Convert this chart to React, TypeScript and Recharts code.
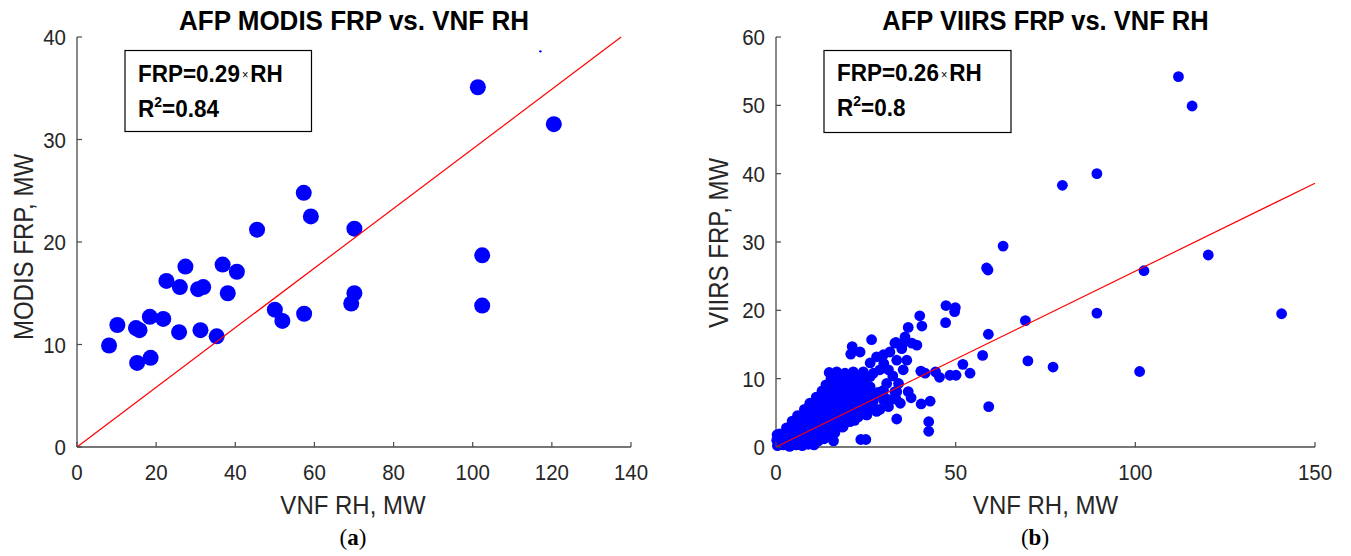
import React from 'react';
import { ScatterChart, Scatter, XAxis, YAxis } from 'recharts';

// ---------- Panel (a): AFP MODIS FRP vs. VNF RH ----------
const modisRH = [8.1, 10.2, 14.9, 15.8, 15.2, 18.6, 18.4, 21.8, 22.6, 26.0, 25.8, 27.4, 30.6, 31.9, 31.2, 35.3, 36.8, 38.1, 40.4, 45.5, 50.0, 51.9, 57.3, 59.1, 57.4, 69.3, 70.1, 70.1, 101.3, 102.4, 102.4, 120.5];
const modisFRP = [9.9, 11.9, 11.6, 11.4, 8.2, 8.7, 12.7, 12.5, 16.2, 15.6, 11.2, 17.6, 15.4, 15.6, 11.4, 10.8, 17.8, 15.0, 17.1, 21.2, 13.4, 12.3, 24.8, 22.5, 13.0, 14.0, 15.0, 21.3, 35.1, 18.7, 13.8, 31.5];
const modisSpeck: [number, number][] = [[117.1, 38.6]];
const modisFit: [number, number][] = [[0, 0], [137.5, 40]];
const modisXTicks = [0, 20, 40, 60, 80, 100, 120, 140];
const modisYTicks = [0, 10, 20, 30, 40];

// ---------- Panel (b): AFP VIIRS FRP vs. VNF RH ----------
const viirsOutliers: [number, number][] = [
  [112.0, 54.2], [115.8, 49.9], [89.3, 40.0], [79.7, 38.3], [63.2, 29.4], [58.6, 26.2], [59.0, 25.9],
  [102.4, 25.8], [120.3, 28.1], [140.7, 19.5], [89.3, 19.6], [69.4, 18.5], [59.1, 16.5],
  [47.3, 20.7], [49.9, 20.4], [49.7, 19.8], [47.2, 18.2], [40.0, 19.2], [40.6, 17.7], [36.8, 17.5],
  [57.5, 13.4], [70.1, 12.6], [77.1, 11.7], [101.2, 11.05], [52.0, 12.1], [54.0, 10.8],
  [44.4, 11.0], [45.5, 10.2], [48.4, 10.5], [50.1, 10.5], [59.2, 5.9], [40.3, 11.1], [40.4, 6.3],
  [42.9, 6.7], [42.5, 3.7], [42.5, 2.3], [33.6, 4.1], [34.6, 6.4], [36.8, 8.1], [37.6, 7.2],
  [23.6, 1.1], [25.0, 1.1], [16.0, 0.9], [41.5, 10.8]
];
const viirsMid: [number, number][] = [
  [24.3, 11.0], [26.2, 12.3], [27.1, 10.8], [28.0, 13.2], [28.9, 11.3], [29.9, 13.5], [31.7, 13.9],
  [33.1, 15.2], [35.9, 16.1], [37.8, 15.2], [39.2, 14.9], [35.0, 14.4], [33.6, 12.7], [36.4, 12.7],
  [35.4, 11.3], [30.8, 9.3], [34.1, 9.3], [29.9, 8.3], [33.1, 8.1], [31.7, 6.9], [29.9, 6.9],
  [27.1, 7.4], [28.0, 5.4], [25.2, 4.7], [22.9, 4.4], [20.6, 3.7], [18.7, 3.0], [21.2, 14.7],
  [23.4, 13.9], [20.8, 13.6], [26.6, 15.7], [26.2, 8.8], [26.2, 10.3], [31.3, 11.3], [33.4, 15.3],
  [35.4, 15.2], [30.3, 7.2], [31.3, 5.9], [28.0, 5.2], [33.6, 8.1], [33.4, 7.0], [28.4, 8.0],
  [32.5, 10.4], [30.0, 12.2]
];
const viirsCore: [number, number][] = [
  [0.4, 0.2], [2.1, 0.3], [3.8, 0.1], [5.6, 0.3], [7.3, 0.2], [9.0, 0.4], [10.6, 0.3],
  [0.2, 1.0], [1.5, 1.2], [3.2, 1.1], [4.9, 0.9], [6.6, 1.2], [8.2, 1.0], [10.0, 1.3], [11.8, 0.9], [13.4, 1.2],
  [0.3, 1.8], [1.0, 1.9], [2.6, 2.1], [4.3, 2.0], [6.0, 1.8], [7.7, 2.2], [9.4, 1.9], [11.1, 2.1], [12.9, 2.0], [14.6, 1.8], [16.4, 2.1],
  [2.9, 2.8], [4.6, 3.0], [6.3, 2.9], [8.0, 2.7], [9.8, 3.0], [11.5, 2.9], [13.3, 3.1], [15.0, 2.8], [16.8, 3.0], [18.5, 2.9],
  [4.5, 3.8], [6.2, 3.7], [7.9, 3.9], [9.6, 3.8], [11.4, 3.6], [13.1, 3.9], [14.9, 3.8], [16.7, 3.7], [18.4, 4.0], [20.2, 3.8], [21.9, 3.9],
  [6.0, 4.6], [7.7, 4.8], [9.5, 4.7], [11.2, 4.5], [12.9, 4.8], [14.7, 4.7], [16.4, 4.6], [18.2, 4.9], [20.0, 4.7], [21.8, 4.5], [23.5, 4.8], [25.3, 4.7],
  [7.9, 5.5], [9.6, 5.7], [11.4, 5.6], [13.1, 5.4], [14.9, 5.7], [16.6, 5.6], [18.3, 5.5], [20.1, 5.8], [21.9, 5.6], [23.6, 5.4], [25.4, 5.7], [27.2, 5.6], [28.9, 5.5],
  [9.4, 6.4], [11.1, 6.6], [12.9, 6.5], [14.6, 6.3], [16.4, 6.6], [18.1, 6.5], [19.9, 6.4], [21.6, 6.7], [23.4, 6.5], [25.1, 6.3], [27.0, 6.6],
  [11.2, 7.3], [13.0, 7.5], [14.7, 7.4], [16.5, 7.2], [18.2, 7.5], [20.0, 7.4], [21.7, 7.3], [23.5, 7.6], [25.2, 7.4], [27.1, 7.3],
  [12.8, 8.2], [14.5, 8.4], [16.3, 8.3], [18.0, 8.1], [19.8, 8.4], [21.5, 8.3], [23.3, 8.2], [25.0, 8.5],
  [13.9, 9.1], [15.7, 9.3], [17.4, 9.2], [19.2, 9.0], [20.9, 9.3], [22.7, 9.2], [24.4, 9.4],
  [15.3, 10.0], [17.1, 10.2], [18.8, 10.1], [20.6, 9.9], [22.3, 10.2], [24.0, 10.1],
  [14.8, 10.9], [16.9, 11.0], [19.2, 10.8], [21.5, 11.0]
];
const viirsFit: [number, number][] = [[0, 0], [150, 38.6]];
const viirsXTicks = [0, 50, 100, 150];
const viirsYTicks = [0, 10, 20, 30, 40, 50, 60];

const toPts = (pairs: [number, number][]) => pairs.map(([x, y]) => ({ x, y }));
const modisPts = modisRH.map((x, i) => ({ x, y: modisFRP[i] }));

const AXIS = '#4a4a4a';
const TXT = '#262626';
const FONT = '"Liberation Sans", Arial, Helvetica, sans-serif';
const BLUE = '#0000ff';

const dot = (r: number) => (props: any) => (
  <circle cx={props.cx} cy={props.cy} r={r} fill={BLUE} />
);
const noShape = () => <g />;

const XTick = (props: any) => {
  const { x, y, payload } = props;
  return (
    <g>
      <line x1={x} y1={y} x2={x} y2={y - 5} stroke={AXIS} strokeWidth={1.2} />
      <text transform={`translate(${x},${y + 33}) scale(1,1.08)`} textAnchor="middle" fontSize={20.5} fill={TXT} fontFamily={FONT}>
        {payload.value}
      </text>
    </g>
  );
};
const YTick = (props: any) => {
  const { x, y, payload } = props;
  return (
    <g>
      <line x1={x} y1={y} x2={x + 5} y2={y} stroke={AXIS} strokeWidth={1.2} />
      <text transform={`translate(${x - 11},${y + 8}) scale(1,1.08)`} textAnchor="end" fontSize={20.5} fill={TXT} fontFamily={FONT}>
        {payload.value}
      </text>
    </g>
  );
};

export default function App() {
  return (
    <div style={{ position: 'absolute', left: 0, top: 0, width: 1351, height: 556, background: '#fff' }}>
      <div style={{ position: 'absolute', left: 0, top: 0 }}>
        <ScatterChart width={680} height={556} margin={{ top: 37, left: 17, right: 49, bottom: 79 }}>
          <XAxis type="number" dataKey="x" domain={[0, 140]} ticks={modisXTicks} interval={0}
            tickSize={0} tickMargin={0} tickLine={false} tick={XTick} height={30}
            axisLine={{ stroke: AXIS, strokeWidth: 1.3 }} />
          <YAxis type="number" dataKey="y" domain={[0, 40]} ticks={modisYTicks} interval={0}
            tickSize={0} tickMargin={0} tickLine={false} tick={YTick} width={60}
            axisLine={{ stroke: AXIS, strokeWidth: 1.3 }} />
          <Scatter data={modisPts} shape={dot(8)} isAnimationActive={false} />
          <Scatter data={toPts(modisSpeck)} shape={dot(1.2)} isAnimationActive={false} />
          <Scatter data={toPts(modisFit)} shape={noShape} line={{ stroke: '#ff0000', strokeWidth: 1.2 }} isAnimationActive={false} />
        </ScatterChart>
      </div>
      <div style={{ position: 'absolute', left: 680, top: 0 }}>
        <ScatterChart width={671} height={556} margin={{ top: 37, left: 36, right: 36, bottom: 79 }}>
          <XAxis type="number" dataKey="x" domain={[0, 150]} ticks={viirsXTicks} interval={0}
            tickSize={0} tickMargin={0} tickLine={false} tick={XTick} height={30}
            axisLine={{ stroke: AXIS, strokeWidth: 1.3 }} />
          <YAxis type="number" dataKey="y" domain={[0, 60]} ticks={viirsYTicks} interval={0}
            tickSize={0} tickMargin={0} tickLine={false} tick={YTick} width={60}
            axisLine={{ stroke: AXIS, strokeWidth: 1.3 }} />
          <Scatter data={toPts(viirsCore)} shape={dot(5.4)} isAnimationActive={false} />
          <Scatter data={toPts(viirsMid)} shape={dot(5.4)} isAnimationActive={false} />
          <Scatter data={toPts(viirsOutliers)} shape={dot(5.4)} isAnimationActive={false} />
          <Scatter data={toPts(viirsFit)} shape={noShape} line={{ stroke: '#ff0000', strokeWidth: 1.2 }} isAnimationActive={false} />
        </ScatterChart>
      </div>
      <svg width={1351} height={556} style={{ position: 'absolute', left: 0, top: 0, pointerEvents: 'none' }}>
        <g fontFamily={FONT} fill={TXT}>
          <text transform="translate(354,30) scale(1,1.06)" textAnchor="middle" fontSize={26} fontWeight="bold" fill="#000">AFP MODIS FRP vs. VNF RH</text>
          <text transform="translate(1045.5,30) scale(1,1.06)" textAnchor="middle" fontSize={25.5} fontWeight="bold" fill="#000">AFP VIIRS FRP vs. VNF RH</text>
          <text transform="translate(353,514) scale(1,1.1)" textAnchor="middle" fontSize={24}>VNF RH, MW</text>
          <text transform="translate(1045.5,514) scale(1,1.1)" textAnchor="middle" fontSize={24}>VNF RH, MW</text>
          <text transform="translate(33,247) rotate(-90) scale(1,1.15)" textAnchor="middle" fontSize={24}>MODIS FRP, MW</text>
          <text transform="translate(728,243) rotate(-90) scale(1,1.15)" textAnchor="middle" fontSize={24}>VIIRS FRP, MW</text>
        </g>
        <rect x={125} y={50.5} width={186.5} height={81} fill="#fff" stroke="#000" strokeWidth={1.2} />
        <rect x={824} y={50.5} width={187} height={82} fill="#fff" stroke="#000" strokeWidth={1.2} />
        <g fontFamily={FONT} fontWeight="bold" fill="#000" fontSize={22.5}>
          <text transform="translate(138,81.5) scale(1,1.1)">FRP=0.29<tspan fontSize={11} fontWeight="normal" dx={2} dy={-2}>×</tspan><tspan dx={2} dy={2}>RH</tspan></text>
          <text transform="translate(138,116.5) scale(1,1.1)">R<tspan fontSize={14} dy={-9}>2</tspan><tspan dy={9}>=0.84</tspan></text>
          <text transform="translate(837,81) scale(1,1.1)">FRP=0.26<tspan fontSize={11} fontWeight="normal" dx={2} dy={-2}>×</tspan><tspan dx={2} dy={2}>RH</tspan></text>
          <text transform="translate(837,116) scale(1,1.1)">R<tspan fontSize={14} dy={-9}>2</tspan><tspan dy={9}>=0.8</tspan></text>
        </g>
        <g fontFamily='"Liberation Serif", "Times New Roman", serif' fontSize={23} fill="#000">
          <text x={353} y={545} textAnchor="middle">(<tspan fontWeight="bold">a</tspan>)</text>
          <text x={1035} y={545} textAnchor="middle">(<tspan fontWeight="bold">b</tspan>)</text>
        </g>
      </svg>
    </div>
  );
}
